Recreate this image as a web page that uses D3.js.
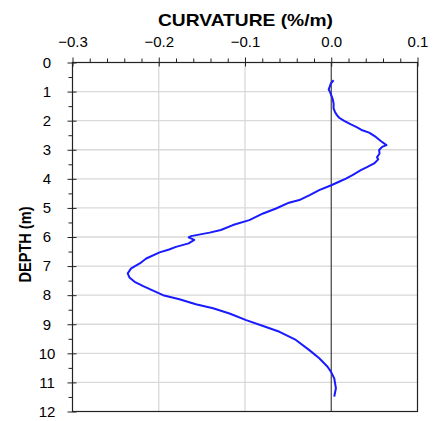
<!DOCTYPE html>
<html>
<head>
<meta charset="utf-8">
<script src="https://cdnjs.cloudflare.com/ajax/libs/d3/7.8.5/d3.min.js"></script>
<style>
    body { margin: 0; background: #fff; }
    #CurvatureVsDepth { width: 438px; height: 421px; }
    text { font-family: "Liberation Sans", Arial, sans-serif; fill: #000; }
</style>
</head>
<body>
<div id="CurvatureVsDepth"></div>
<script>
// DATA
const depthM = [0.61, 0.72, 0.93, 1.01, 1.24, 1.41, 1.58, 1.70, 1.81, 1.90,
    2.01, 2.13, 2.23, 2.33, 2.41, 2.56, 2.70, 2.84, 2.90, 3.01,
    3.13, 3.26, 3.33, 3.47, 3.59, 3.70, 3.87, 3.99, 4.10, 4.22,
    4.39, 4.56, 4.73, 4.82, 5.02, 5.19, 5.42, 5.59, 5.76, 5.85,
    5.97, 6.01, 6.10, 6.22, 6.34, 6.43, 6.53, 6.74, 6.91, 7.08,
    7.25, 7.39, 7.54, 7.69, 7.82, 8.00, 8.14, 8.31, 8.45, 8.63,
    8.86, 9.06, 9.26, 9.54, 9.89, 10.17, 10.46, 10.63, 10.86, 11.20,
    11.49];
const curvature = [0.0027, -0.0004, -0.003, -0.0015, 0.0015, 0.0027, 0.0027, 0.0043, 0.0066, 0.0092,
    0.015, 0.0228, 0.030, 0.036, 0.0439, 0.0517, 0.0574, 0.064, 0.059, 0.0555,
    0.056, 0.053, 0.0545, 0.0497, 0.042, 0.0343, 0.0246, 0.017, 0.009, 0.000,
    -0.014, -0.025, -0.037, -0.049, -0.064, -0.079, -0.095, -0.114, -0.128, -0.141,
    -0.1627, -0.1653, -0.1588, -0.1653, -0.1800, -0.188, -0.199, -0.2145, -0.222, -0.232,
    -0.236, -0.234, -0.228, -0.218, -0.2085, -0.195, -0.176, -0.157, -0.137, -0.118,
    -0.0986, -0.079, -0.060, -0.041, -0.0254, -0.0139, -0.0043, -0.0004, 0.0035, 0.0054,
    0.0035];

const xTicks = [-0.3, -0.2, -0.1, 0.0, 0.1];
const xMinorTicks = [-0.28, -0.26, -0.24, -0.22, -0.18, -0.16, -0.14, -0.12,
    -0.08, -0.06, -0.04, -0.02, 0.02, 0.04, 0.06, 0.08];
const yTicks = [0, 1, 2, 3, 4, 5, 6, 7, 8, 9, 10, 11, 12];
const yMinorTicks = [0.5, 1.5, 2.5, 3.5, 4.5, 5.5, 6.5, 7.5, 8.5, 9.5, 10.5, 11.5];

const xTitle = "CURVATURE (%/m)";
const yTitle = "DEPTH (m)";

class CurvatureVsDepth {
    constructor(depth, curv) {
        this.data = depth.map((d, i) => ({ depth: d, curv: curv[i] }));

        this.w = 438;
        this.h = 421;
        this.margin = { top: 62.5, right: 20.5, bottom: 9.5, left: 72.5 };

        // MAIN element here
        this.svg = d3.select("#CurvatureVsDepth").append("svg")
            .attr("width", this.w)
            .attr("height", this.h)
            .append("g");

        // SCALES
        this.x = d3.scaleLinear()
            .domain([-0.3, 0.1])
            .range([this.margin.left, this.w - this.margin.right]);

        this.y = d3.scaleLinear()
            .domain([0, 12])
            .range([this.margin.top, this.h - this.margin.bottom]);

        // GRID
        this.svg.append("g").selectAll("line")
            .data(yTicks.slice(1, -1)).enter().append("line")
            .attr("x1", this.x(-0.3)).attr("x2", this.x(0.1))
            .attr("y1", (d) => this.y(d)).attr("y2", (d) => this.y(d))
            .style("stroke", "#d9d9d9").style("stroke-width", 1.3);

        this.svg.append("g").selectAll("line")
            .data([-0.2, -0.1]).enter().append("line")
            .attr("x1", (d) => this.x(d)).attr("x2", (d) => this.x(d))
            .attr("y1", this.y(0)).attr("y2", this.y(12))
            .style("stroke", "#d9d9d9").style("stroke-width", 1.3);

        // zero line
        this.svg.append("line")
            .attr("x1", this.x(0)).attr("x2", this.x(0))
            .attr("y1", this.y(0)).attr("y2", this.y(12))
            .style("stroke", "#404040").style("stroke-width", 1.2);

        // frame
        this.svg.append("rect")
            .attr("x", this.x(-0.3)).attr("y", this.y(0))
            .attr("width", this.x(0.1) - this.x(-0.3))
            .attr("height", this.y(12) - this.y(0))
            .style("fill", "none").style("stroke", "#222").style("stroke-width", 1.2);

        // AXES
        this.xAxes = this.svg.append("g")
            .attr("class", "x axis")
            .attr("transform", "translate(0," + this.y(0) + ")")
            .call(d3.axisTop(this.x).tickValues(xTicks).tickSize(5).tickPadding(10.5)
                .tickFormat(d3.format(".1f")));
        this.xAxes.select(".domain").remove();
        this.xAxes.selectAll(".tick line").attr("y1", 4).style("stroke", "#222");
        this.xAxes.selectAll(".tick text")
            .style("font-size", "15px")
            .style("font-family", "'Liberation Sans', Arial, sans-serif");

        this.xMinor = this.svg.append("g")
            .attr("transform", "translate(0," + this.y(0) + ")")
            .call(d3.axisTop(this.x).tickValues(xMinorTicks).tickSize(4).tickFormat(""));
        this.xMinor.select(".domain").remove();
        this.xMinor.selectAll(".tick line").style("stroke", "#222");

        this.yAxes = this.svg.append("g")
            .attr("class", "y axis")
            .attr("transform", "translate(" + this.x(-0.3) + ",0)")
            .call(d3.axisLeft(this.y).tickValues(yTicks).tickSize(5).tickFormat(d3.format("d")));
        this.yAxes.select(".domain").remove();
        this.yAxes.selectAll(".tick line").attr("x1", 4).style("stroke", "#222");
        this.yAxes.selectAll(".tick text")
            .attr("x", -25.5)
            .attr("text-anchor", "middle")
            .style("font-size", "15px")
            .style("font-family", "'Liberation Sans', Arial, sans-serif");

        this.yMinor = this.svg.append("g")
            .attr("transform", "translate(" + this.x(-0.3) + ",0)")
            .call(d3.axisLeft(this.y).tickValues(yMinorTicks).tickSize(4).tickFormat(""));
        this.yMinor.select(".domain").remove();
        this.yMinor.selectAll(".tick line").style("stroke", "#222");

        // AXES LABELS
        this.svg.append("text")
            .text(xTitle)
            .attr("x", 245.5).attr("y", 26)
            .attr("text-anchor", "middle")
            .attr("textLength", 175)
            .attr("lengthAdjust", "spacingAndGlyphs")
            .style("font-size", "17px")
            .style("font-weight", "bold");

        this.svg.append("text")
            .text(yTitle)
            .attr("transform", "translate(31,244.5) rotate(-90)")
            .attr("text-anchor", "middle")
            .attr("textLength", 76)
            .attr("lengthAdjust", "spacingAndGlyphs")
            .style("font-size", "17px")
            .style("font-weight", "bold");

        // LINES PATHS etc.
        this.line = d3.line()
            .x((d) => this.x(d.curv))
            .y((d) => this.y(d.depth));

        this.svg.append("path")
            .datum(this.data)
            .attr("class", "line")
            .attr("d", this.line)
            .style("fill", "none")
            .style("stroke", "#1a1aff")
            .style("stroke-width", 2)
            .style("stroke-linejoin", "round");
    }
}

new CurvatureVsDepth(depthM, curvature);
</script>
</body>
</html>
